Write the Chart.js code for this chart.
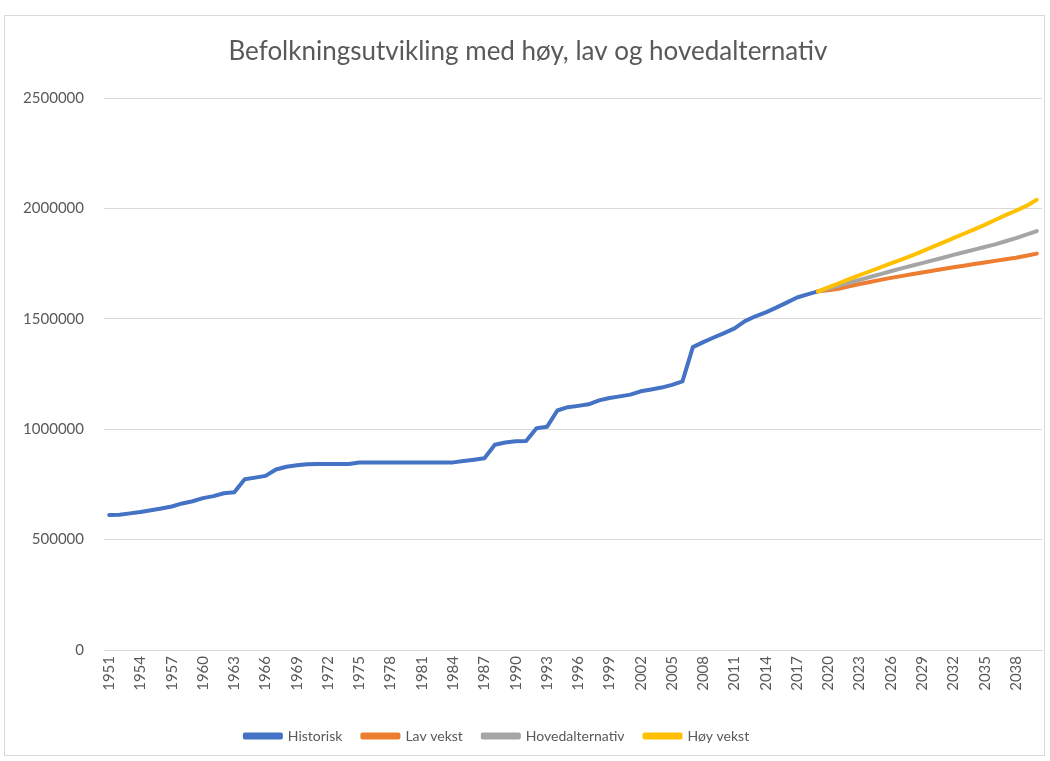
<!DOCTYPE html>
<html>
<head>
<meta charset="utf-8">
<script src="https://cdn.jsdelivr.net/npm/chart.js@4/dist/chart.umd.min.js"></script>
<style>
  html, body { margin: 0; padding: 0; background: #fff; }
  #wrap { position: absolute; left: 0; top: 0; width: 1050px; height: 761px; }
  #frame { position: absolute; left: 4px; top: 15px; width: 1041px; height: 741px; border: 1px solid #d9d9d9; box-sizing: border-box; }
  #myChart { position: absolute; left: 0; top: 0; }
</style>
</head>
<body>
<div id="wrap">
  <div id="frame"></div>
  <canvas id="myChart" width="1050" height="761"></canvas>
</div>
<script>
const years = [
  1951, 1952, 1953, 1954, 1955, 1956, 1957, 1958, 1959, 1960,
  1961, 1962, 1963, 1964, 1965, 1966, 1967, 1968, 1969, 1970,
  1971, 1972, 1973, 1974, 1975, 1976, 1977, 1978, 1979, 1980,
  1981, 1982, 1983, 1984, 1985, 1986, 1987, 1988, 1989, 1990,
  1991, 1992, 1993, 1994, 1995, 1996, 1997, 1998, 1999, 2000,
  2001, 2002, 2003, 2004, 2005, 2006, 2007, 2008, 2009, 2010,
  2011, 2012, 2013, 2014, 2015, 2016, 2017, 2018, 2019, 2020,
  2021, 2022, 2023, 2024, 2025, 2026, 2027, 2028, 2029, 2030,
  2031, 2032, 2033, 2034, 2035, 2036, 2037, 2038, 2039, 2040
];

// 1951 - 2019
const historisk = [
  612000, 613000, 619000, 625000, 633000, 641000, 650000, 664000, 674000, 688000,
  697000, 710000, 715000, 774000, 781000, 789000, 818000, 830000, 837000, 842000,
  843000, 843000, 843000, 843000, 849000, 850000, 850000, 850000, 850000, 850000,
  850000, 850000, 850000, 850000, 856000, 862000, 869000, 930000, 940000, 946000,
  947000, 1005000, 1011000, 1085000, 1100000, 1106000, 1113000, 1131000, 1142000, 1149000,
  1157000, 1172000, 1180000, 1189000, 1201000, 1217000, 1372000, 1395000, 1416000, 1436000,
  1457000, 1490000, 1512000, 1530000, 1551000, 1574000, 1597000, 1611000, 1625000
];

// 2019 - 2040
const lavVekst = [
  1625000, 1630000, 1637000, 1648000, 1658000, 1667000, 1677000, 1686000, 1694000, 1702000,
  1710000, 1718000, 1726000, 1734000, 1741000, 1749000, 1756000, 1763000, 1770000, 1777000,
  1786000, 1796000
];
const hovedalternativ = [
  1625000, 1638000, 1651000, 1664000, 1677000, 1690000, 1703000, 1716000, 1729000, 1741000,
  1753000, 1765000, 1777000, 1790000, 1802000, 1814000, 1826000, 1838000, 1852000, 1866000,
  1882000, 1898000
];
const hoyVekst = [
  1625000, 1643000, 1661000, 1680000, 1698000, 1716000, 1734000, 1752000, 1769000, 1787000,
  1806000, 1826000, 1846000, 1866000, 1886000, 1906000, 1926000, 1948000, 1970000, 1990000,
  2012000, 2040000
];

const yTicks = [0, 500000, 1000000, 1500000, 2000000, 2500000];

// projections start in the last historic year
const projStart = years.length - lavVekst.length;
const pad = (arr, before) => Array(before).fill(null).concat(arr);

const grey = '#595959';
const fontFamily = 'Lato, "Open Sans", sans-serif';

function line(label, data, color, order) {
  return {
    label: label,
    data: data,
    borderColor: color,
    backgroundColor: color,
    borderWidth: 4,
    pointRadius: 0,
    pointHoverRadius: 0,
    tension: 0,
    borderCapStyle: 'round',
    borderJoinStyle: 'round',
    spanGaps: false,
    order: order
  };
}

const data = {
  labels: years.map(String),
  datasets: [
    line('Historisk', historisk.concat(Array(years.length - historisk.length).fill(null)), '#4472C4', 3),
    line('Lav vekst', pad(lavVekst, projStart), '#ED7D31', 2),
    line('Hovedalternativ', pad(hovedalternativ, projStart), '#A5A5A5', 1),
    line('Høy vekst', pad(hoyVekst, projStart), '#FFC000', 0)
  ]
};

// legend sits a bit left of the centre
const legendShift = {
  id: 'legendShift',
  afterLayout(chart) {
    chart.legend.left -= 31;
    chart.legend.right -= 31;
  }
};

const config = {
  type: 'line',
  data: data,
  plugins: [legendShift],
  options: {
    responsive: false,
    animation: false,
    layout: { padding: { top: 26, left: 14, right: 8, bottom: 8 } },
    plugins: {
      tooltip: { enabled: false },
      title: {
        display: true,
        text: 'Befolkningsutvikling med høy, lav og hovedalternativ',
        color: grey,
        font: { family: fontFamily, size: 26, weight: 'normal' },
        padding: { top: 10, bottom: 31 }
      },
      legend: {
        position: 'bottom',
        labels: {
          color: grey,
          font: { family: fontFamily, size: 14 },
          boxWidth: 36,
          boxHeight: 3,
          padding: 20,
          sort: (a, b) => a.datasetIndex - b.datasetIndex
        }
      }
    },
    scales: {
      x: {
        offset: true,
        afterFit: scale => {
          scale.height = 59;
          scale.paddingLeft = 0;
          scale.paddingRight = 0;
        },
        grid: { display: false, drawTicks: false },
        border: { display: true, color: '#d9d9d9', width: 1 },
        ticks: {
          color: grey,
          font: { family: fontFamily, size: 15 },
          autoSkip: false,
          minRotation: 90,
          maxRotation: 90,
          padding: 6,
          callback: function (value, index) {
            return index % 3 === 0 ? this.getLabelForValue(value) : '';
          }
        }
      },
      y: {
        min: 0,
        max: 2500000,
        afterBuildTicks: axis => { axis.ticks = yTicks.map(v => ({ value: v })); },
        afterFit: scale => { scale.width = 90; },
        grid: { color: '#d9d9d9', drawTicks: false },
        border: { display: false },
        ticks: {
          color: grey,
          font: { family: fontFamily, size: 15 },
          padding: 20,
          callback: v => String(v)
        }
      }
    }
  }
};

const myChart = new Chart(document.getElementById('myChart'), config);
</script>
</body>
</html>
